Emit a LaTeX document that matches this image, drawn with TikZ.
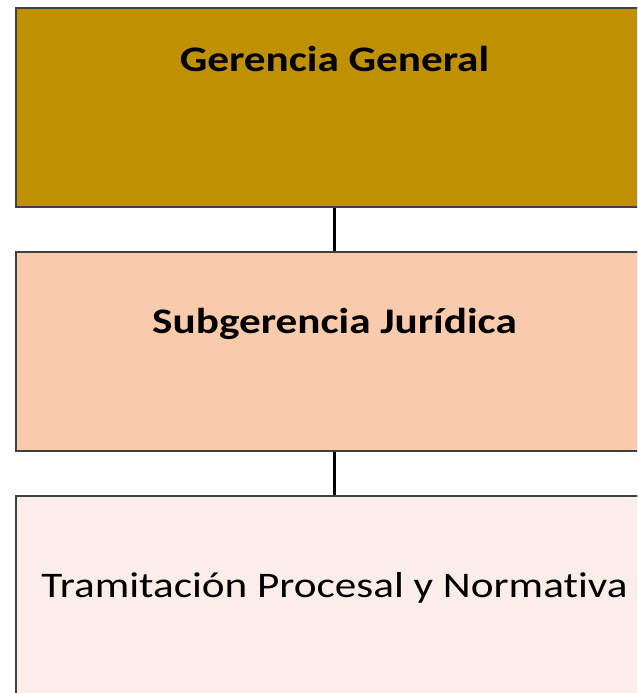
\documentclass[tikz,border=0pt]{standalone}
\usepackage{fontspec}
\setmainfont{Carlito}[FakeStretch=1.2, Ligatures=NoCommon]
\usepackage{xcolor}
\definecolor{gold}{HTML}{BF9000}
\definecolor{peach}{HTML}{F8CBAD}
\definecolor{blush}{HTML}{FBEEE8}
\definecolor{edge}{HTML}{404040}
\tikzset{
	area/.style = {draw=edge, line width=1.2pt, minimum width=637pt, minimum height=199pt, inner sep=0pt},
	title/.style = {font=\fontsize{36}{42}\selectfont, inner sep=0pt},
	link/.style = {line width=2.2pt, black}
}
\begin{document}
\begin{tikzpicture}[x=1pt,y=-1pt]
				%\draw[help lines] (0,0) grid (637,693);
				\useasboundingbox (0,0) rectangle (637,693);
				\clip (0,0) rectangle (637,693);
				
				\node[area, fill=gold]  (gg) at (334.5,107.5) {};
				\node[area, fill=peach] (sj) at (334.5,351.5) {};
				\node[area, fill=blush] (tp) at (334.5,595.5) {};
				
				\node[title] (ggt) at (334.5,59) {\bfseries Gerencia General};
				\node[title] (sjt) at (334.5,324) {\bfseries Subgerencia Jurídica};
				\node[title] (tpt) at (334.5,588) {Tramitación Procesal y Normativa};
				
				\draw[link] (gg.south) -- (sj.north);
				\draw[link] (sj.south) -- (tp.north);
\end{tikzpicture}
\end{document}
